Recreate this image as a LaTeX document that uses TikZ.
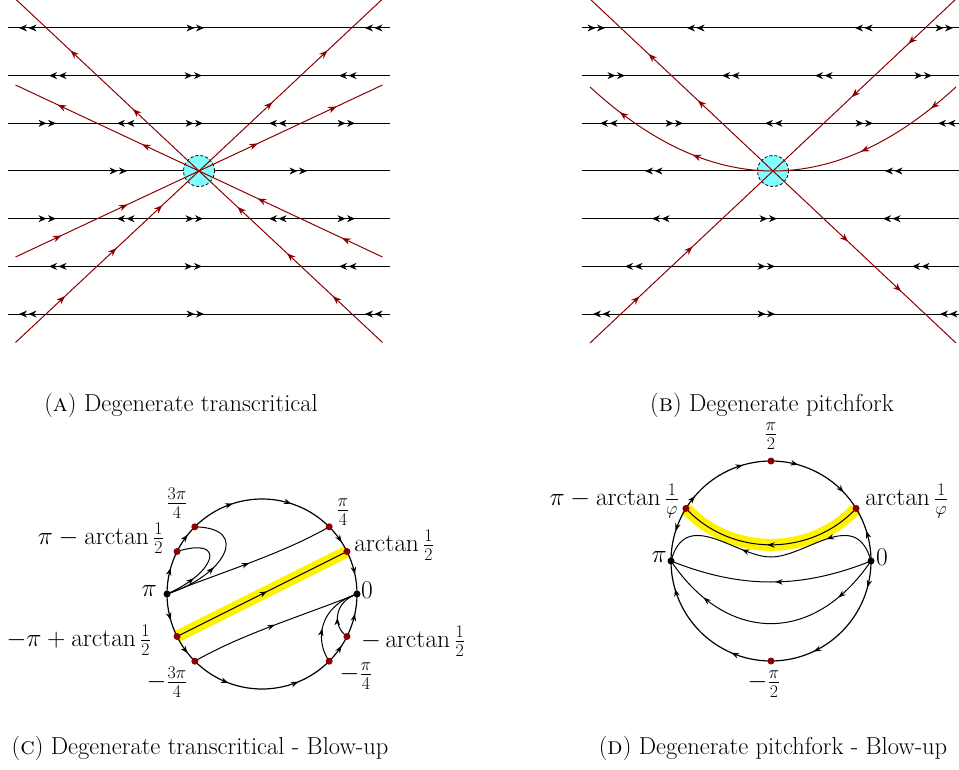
\documentclass[tikz,border=0pt]{standalone}
\usepackage{fix-cm}
\usetikzlibrary{arrows.meta,decorations.markings}
\definecolor{dred}{RGB}{139,0,0}
\definecolor{lcyan}{RGB}{128,255,255}
\tikzset{
 hl/.style={line width=1pt,black},
 rl/.style={line width=1pt,dred},
 cl/.style={line width=1pt,black},
 circ/.style={line width=1.2pt,black},
 ra/.style={postaction={decorate,decoration={markings,mark=at position #1 with {\arrow{Stealth[length=8.5pt,width=6.5pt]}}}}},
 ka/.style={postaction={decorate,decoration={markings,mark=at position #1 with {\arrow{Stealth[length=7.5pt,width=5.5pt]}}}}},
 hilite/.style={yellow,line width=12pt},
 rdot/.style={circle,fill=dred,inner sep=0pt,minimum size=7pt},
 bdot/.style={circle,fill=black,inner sep=0pt,minimum size=7pt},
 lab/.style={inner sep=0pt},
 captn/.style={inner sep=0pt,font=\fontsize{24.5}{29}\selectfont},
 sing/.style={circle,draw=black,dash pattern=on 3pt off 2pt,fill=lcyan,minimum size=31pt,inner sep=0pt,line width=0.8pt},
}
\newcommand{\headR}[2]{\fill (#1,#2) -- ++(-8,3.5) -- ++(2.5,-3.5) -- ++(-2.5,-3.5) -- cycle;}
\newcommand{\headL}[2]{\fill (#1,#2) -- ++(8,3.5) -- ++(-2.5,-3.5) -- ++(2.5,-3.5) -- cycle;}
\newcommand{\dR}[2]{\headR{#1}{#2}\headR{#1-9.5}{#2}}
\newcommand{\dL}[2]{\headL{#1}{#2}\headL{#1+9.5}{#2}}
\begin{document}
\begin{tikzpicture}[x=1pt,y=-1pt,font=\fontsize{25.5}{30}\selectfont]
\useasboundingbox (0,0) rectangle (959,770);

% ================= Panel A =================
\foreach \yy in {28,75.6,123.3,171,218.7,266.4,314}{\draw[hl] (8,\yy) -- (390,\yy);}
\foreach \yy in {28,314}{\dL{19}{\yy}\dR{204}{\yy}\dL{365}{\yy}}
\foreach \yy in {75.6,266.4}{\dL{49}{\yy}\dR{202}{\yy}\dL{339}{\yy}}
\foreach \yy in {123.3,218.7}{\dR{56}{\yy}\dL{117}{\yy}\dR{203}{\yy}\dL{269}{\yy}\dR{355}{\yy}}
\dR{127}{171}\dR{307}{171}
\node[sing] (sA) at (199,171) {};
\coordinate (cA) at (199,171);
\coordinate (aUL) at (15.5,-1);
\coordinate (aUR) at (382.5,-1);
\coordinate (aLL) at (15.5,342.5);
\coordinate (aLR) at (382.5,342.5);
\coordinate (aUl) at (15.5,85);
\coordinate (aUr) at (382.5,85);
\coordinate (aLl) at (15.5,257);
\coordinate (aLr) at (382.5,257);
\draw[rl,ra=0.36,ra=0.70] (cA) -- (aUL);
\draw[rl,ra=0.40,ra=0.70] (cA) -- (aUR);
\draw[rl,ra=0.31,ra=0.77] (cA) -- (aUl);
\draw[rl,ra=0.32,ra=0.75] (cA) -- (aUr);
\draw[rl,ra=0.25,ra=0.61] (aLl) -- (cA);
\draw[rl,ra=0.27,ra=0.55,ra=0.80] (aLL) -- (cA);
\draw[rl,ra=0.27,ra=0.52,ra=0.79] (aLR) -- (cA);
\draw[rl,ra=0.22,ra=0.68] (aLr) -- (cA);

% ================= Panel B =================
\foreach \yy in {28,75.6,123.3,171,218.7,266.4,314}{\draw[hl] (582,\yy) -- (959,\yy);}
\dR{605}{28}\dL{687}{28}\dL{855}{28}\dR{953}{28}
\dR{625}{75.6}\dL{722}{75.6}\dL{815}{75.6}\dR{932}{75.6}
\dL{600}{123.3}\dR{683}{123.3}\dL{765}{123.3}\dR{873}{123.3}\dL{938}{123.3}
\dL{645}{171}\dL{885}{171}
\dL{652}{218.7}\dR{777}{218.7}\dL{883}{218.7}
\dL{625}{266.4}\dR{775}{266.4}\dL{912}{266.4}
\dL{593}{314}\dR{775}{314}\dL{940}{314}
\node[sing] (sB) at (773,171) {};
\coordinate (cB) at (773,171);
\coordinate (bUL) at (590,-1);
\coordinate (bUR) at (956,-1);
\coordinate (bLL) at (590,343);
\coordinate (bLR) at (956,343);
\coordinate (bPL) at (590,87);
\coordinate (bPR) at (956,87);
\draw[rl,ra=0.41,ra=0.68] (cB) -- (bUL);
\draw[rl,ra=0.26,ra=0.57] (bUR) -- (cB);
\draw[rl,ra=0.27,ra=0.56] (bLL) -- (cB);
\draw[rl,ra=0.41,ra=0.70] (cB) -- (bLR);
\draw[rl,ra=0.16,ra=0.56] (bPR) .. controls (895,143) and (834,171) .. (cB);
\draw[rl,ra=0.40,ra=0.81] (cB) .. controls (712,171) and (651,143) .. (bPL);

% ================= Panel C =================
\begin{scope}[shift={(262,594)},y=1pt]
\coordinate (cZ) at (0:95);
\coordinate (cPi) at (180:95);
\coordinate (cA1) at (45:95);
\coordinate (cA2) at (26.565:95);
\coordinate (cA3) at (135:95);
\coordinate (cA4) at (153.435:95);
\coordinate (cB1) at (-45:95);
\coordinate (cB2) at (-26.565:95);
\coordinate (cB3) at (-135:95);
\coordinate (cB4) at (-153.435:95);
\draw[hilite] (cB4) -- (cA2);
\draw[cl,ka=0.53] (cB4) -- (cA2);
% circle arcs
\draw[circ,ka=0.30,ka=0.70] (cA3) arc[start angle=135,end angle=45,radius=95];
\draw[circ,ka=0.65] (cA1) arc[start angle=45,end angle=26.565,radius=95];
\draw[circ,ka=0.55] (cA2) arc[start angle=26.565,end angle=0,radius=95];
\draw[circ,ka=0.55] (cB2) arc[start angle=-26.565,end angle=0,radius=95];
\draw[circ,ka=0.65] (cB1) arc[start angle=-45,end angle=-26.565,radius=95];
\draw[circ,ka=0.27,ka=0.75] (cB3) arc[start angle=-135,end angle=-45,radius=95];
\draw[circ,ka=0.6] (cPi) arc[start angle=180,end angle=153.435,radius=95];
\draw[circ,ka=0.65] (cA4) arc[start angle=153.435,end angle=135,radius=95];
\draw[circ,ka=0.6] (cPi) arc[start angle=180,end angle=206.565,radius=95];
\draw[circ,ka=0.65] (cB4) arc[start angle=206.565,end angle=225,radius=95];
% interior orbits
\draw[cl,ka=0.5] (cPi) .. controls (-40,22) and (20,40) .. (cA1);
\draw[cl,ka=0.5] (cB3) .. controls (-20,-40) and (40,-22) .. (cZ);
\draw[cl,ka=0.32] (cPi) .. controls (-45,22) and (-35,58) .. (cA4);
\draw[cl,ka=0.45] (cPi) .. controls (-38,18) and (-10,66) .. (cA3);
\draw[cl,ka=0.4] (cB2) .. controls (70,-32) and (72,-8) .. (cZ);
\draw[cl,ka=0.4] (cB1) .. controls (52,-45) and (58,-12) .. (cZ);
% dots
\node[bdot] (dZ) at (cZ) {};
\node[bdot] (dPi) at (cPi) {};
\node[rdot] (dA1) at (cA1) {};
\node[rdot] (dA2) at (cA2) {};
\node[rdot] (dA3) at (cA3) {};
\node[rdot] (dA4) at (cA4) {};
\node[rdot] (dB1) at (cB1) {};
\node[rdot] (dB2) at (cB2) {};
\node[rdot] (dB3) at (cB3) {};
\node[rdot] (dB4) at (cB4) {};
\end{scope}
\node[lab,anchor=east] (lcPi) at (157,591) {$\pi$};
\node[lab,anchor=west] (lcZ) at (361,590) {$0$};
\node[lab] (lcA3) at (177,503) {$\frac{3\pi}{4}$};
\node[lab,anchor=east] (lcA4) at (164,538) {$\pi-\arctan\frac{1}{2}$};
\node[lab] (lcA1) at (343,512) {$\frac{\pi}{4}$};
\node[lab,anchor=west] (lcA2) at (354,545) {$\arctan\frac{1}{2}$};
\node[lab,anchor=east] (lcB4) at (151,640) {$-\pi+\arctan\frac{1}{2}$};
\node[lab] (lcB3) at (167,682) {$-\frac{3\pi}{4}$};
\node[lab,anchor=west] (lcB2) at (361,641) {$-\arctan\frac{1}{2}$};
\node[lab] (lcB1) at (356,676) {$-\frac{\pi}{4}$};

% ================= Panel D =================
\begin{scope}[shift={(771,561)},y=1pt]
\coordinate (eZ) at (0:100);
\coordinate (ePi) at (180:100);
\coordinate (eT) at (90:100);
\coordinate (eB) at (-90:100);
\coordinate (eE1) at (31.717:100);
\coordinate (eE2) at (148.283:100);
\draw[hilite] (eE1) .. controls (40,4) and (-40,4) .. (eE2);
\draw[cl,ka=0.52] (eE1) .. controls (40,4) and (-40,4) .. (eE2);
% circle arcs
\draw[circ,ka=0.15,ka=0.72] (eE2) arc[start angle=148.283,end angle=90,radius=100];
\draw[circ,ka=0.27,ka=0.80] (eT) arc[start angle=90,end angle=31.717,radius=100];
\draw[circ,ka=0.45] (eE2) arc[start angle=148.283,end angle=180,radius=100];
\draw[circ,ka=0.55] (eZ) arc[start angle=0,end angle=31.717,radius=100];
\draw[circ,ka=0.17,ka=0.72] (eZ) arc[start angle=0,end angle=-90,radius=100];
\draw[circ,ka=0.26,ka=0.82] (eB) arc[start angle=-90,end angle=-180,radius=100];
% interior orbits
\draw[cl,ka=0.25,ka=0.63] (eZ) .. controls (85,55) and (35,4) .. (0,4) .. controls (-35,4) and (-85,55) .. (ePi);
\draw[cl,ka=0.48] (eZ) .. controls (30,-28) and (-30,-28) .. (ePi);
\draw[cl,ka=0.2,ka=0.8] (eZ) .. controls (42,-85) and (-45,-82) .. (ePi);
% dots
\node[bdot] (fZ) at (eZ) {};
\node[bdot] (fPi) at (ePi) {};
\node[rdot] (fT) at (eT) {};
\node[rdot] (fB) at (eB) {};
\node[rdot] (fE1) at (eE1) {};
\node[rdot] (fE2) at (eE2) {};
\end{scope}
\node[lab] (ldT) at (771,436) {$\frac{\pi}{2}$};
\node[lab] (ldB) at (764,684) {$-\frac{\pi}{2}$};
\node[lab,anchor=east] (ldE2) at (679,501) {$\pi-\arctan\frac{1}{\varphi}$};
\node[lab,anchor=west] (ldE1) at (865,501) {$\arctan\frac{1}{\varphi}$};
\node[lab,anchor=east] (ldPi) at (667,557) {$\pi$};
\node[lab,anchor=west] (ldZ) at (876,557) {$0$};

% ================= Captions =================
\node[captn] (capA) at (181,405) {(\textsc{a}) Degenerate transcritical};
\node[captn] (capB) at (772,405) {(\textsc{b}) Degenerate pitchfork};
\node[captn] (capC) at (200,748) {(\textsc{c}) Degenerate transcritical - Blow-up};
\node[captn] (capD) at (773,748) {(\textsc{d}) Degenerate pitchfork - Blow-up};
\end{tikzpicture}
\end{document}
